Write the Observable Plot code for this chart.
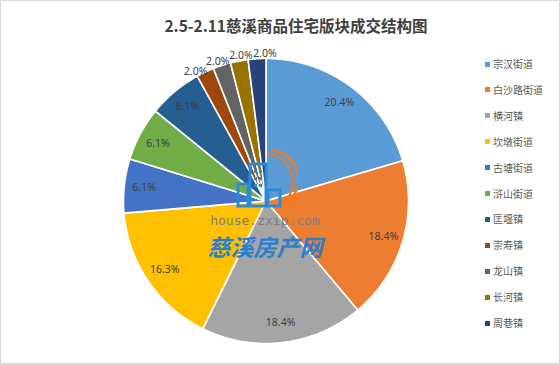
<!DOCTYPE html>
<html><head><meta charset="utf-8">
<script src="https://cdn.jsdelivr.net/npm/d3@7"></script>
<script src="https://cdn.jsdelivr.net/npm/@observablehq/plot@0.6"></script>
<style>
html,body{margin:0;padding:0;background:#fff;}
#wrap{position:relative;width:560px;height:365px;overflow:hidden;background:#fff;}
#border{position:absolute;left:0;top:0;width:560px;height:365px;box-sizing:border-box;border:1px solid #d9d9d9;border-bottom-width:2px;pointer-events:none;}
#title{position:absolute;left:16px;top:12px;width:560px;text-align:center;font:bold 15.5px "Noto Sans CJK SC","Noto Sans",sans-serif;color:#404040;line-height:26px;}
#legend{position:absolute;left:484px;top:0;font:10px "Noto Sans CJK SC",sans-serif;color:#595959;}
.item{position:absolute;left:0;white-space:nowrap;height:14px;line-height:14px;}
.sw{position:absolute;left:1px;top:4.5px;width:5px;height:5px;}
.lt{position:absolute;left:9px;top:0;}
#wm1{position:absolute;left:160px;top:213px;width:210px;text-align:center;font:13px "DejaVu Sans Mono","Liberation Mono",monospace;color:#7f7f7f;}
#wm2{position:absolute;left:160px;top:229px;width:210px;text-align:center;font:23px "Noto Sans CJK SC",sans-serif;color:#2a7fd0;font-style:italic;font-weight:bold;}
#logo{position:absolute;left:228px;top:146px;}
</style></head>
<body>
<div id="wrap">
  <div id="chart" style="position:absolute;left:0;top:0;"></div>
  <div id="title"></div>
  <div id="legend"></div>
  <svg id="logo" width="70" height="64" viewBox="0 0 70 64">
    <path d="M44 4 A30 30 0 0 1 58 58" fill="none" stroke="#f07a1e" stroke-width="2.5"/>
    <path d="M40 8 A28 28 0 0 1 54 58" fill="none" stroke="#f07a1e" stroke-width="2"/>
    <g fill="none" stroke="#2a8ad8" stroke-width="3">
      <rect x="22" y="18" width="16" height="42"/>
      <rect x="10" y="38" width="10" height="22"/>
      <rect x="40" y="44" width="12" height="16"/>
    </g>
    <g fill="#2a8ad8"><rect x="26" y="24" width="3" height="3"/><rect x="31" y="24" width="3" height="3"/><rect x="26" y="31" width="3" height="3"/><rect x="31" y="31" width="3" height="3"/><rect x="26" y="38" width="3" height="3"/><rect x="31" y="38" width="3" height="3"/></g>
  </svg>
  <div id="wm1">house.zxip.com</div>
  <div id="wm2">慈溪房产网</div>
  <div id="border"></div>
</div>
<script>
const title = "2.5-2.11慈溪商品住宅版块成交结构图";
const categories = ["宗汉街道","白沙路街道","横河镇","坎墩街道","古塘街道","浒山街道","匡堰镇","崇寿镇","龙山镇","长河镇","周巷镇"];
const values = [20.4,18.4,18.4,16.3,6.1,6.1,6.1,2.0,2.0,2.0,2.0];
const labels = ["20.4%","18.4%","18.4%","16.3%","6.1%","6.1%","6.1%","2.0%","2.0%","2.0%","2.0%"];
const colors = ["#5B9BD5","#ED7D31","#A5A5A5","#FFC000","#4472C4","#70AD47","#255E91","#9E480E","#636363","#997300","#264478"];

document.getElementById("title").textContent = title;

const arcs = d3.pie().sort(null).value(d => d)(values);
const slicePts = [];
arcs.forEach((a, i) => {
  const cat = categories[i];
  slicePts.push({cat, x: 0, y: 0});
  const n = Math.max(2, Math.ceil((a.endAngle - a.startAngle) / 0.01));
  for (let k = 0; k <= n; k++) {
    const t = a.startAngle + (a.endAngle - a.startAngle) * k / n;
    slicePts.push({cat, x: Math.sin(t), y: Math.cos(t)});
  }
  slicePts.push({cat, x: 0, y: 0});
});
// outside labels (small slices) are spread apart a little, as in the reference
const mids = arcs.map(a => (a.startAngle + a.endAngle) / 2);
const outIdx = values.map((v, i) => v <= 5 ? i : -1).filter(i => i >= 0);
const outMean = d3.mean(outIdx, i => mids[i]);
const labelPts = arcs.map((a, i) => {
  const out = values[i] <= 5;
  const m = out ? outMean + (mids[i] - outMean) * 1.3 : mids[i];
  const f = out ? 1.035 : 0.86;
  return {cat: categories[i], label: labels[i], x: f * Math.sin(m), y: f * Math.cos(m)};
});

const chart = Plot.plot({
  width: 560, height: 365,
  marginLeft: 123, marginRight: 152, marginTop: 58, marginBottom: 22,
  x: {domain: [-1, 1], axis: null},
  y: {domain: [-1, 1], axis: null},
  color: {type: "ordinal", domain: categories, range: colors},
  style: {background: "transparent", fontFamily: "'Noto Sans', sans-serif"},
  marks: [
    Plot.line(slicePts, {x: "x", y: "y", z: "cat", fill: "cat", stroke: "#fff", strokeWidth: 1.6, strokeLinejoin: "round", curve: "linear"}),
    Plot.text(labelPts, {x: "x", y: "y", text: "label", fill: "#404040", fontSize: 10.5, textAnchor: "middle"})
  ]
});
document.getElementById("chart").appendChild(chart);

const lg = document.getElementById("legend");
categories.forEach((c, i) => {
  const it = document.createElement("div");
  it.className = "item";
  it.style.top = (57 + i * 25.9) + "px";
  it.innerHTML = `<span class="sw" style="background:${colors[i]}"></span><span class="lt"></span>`;
  it.querySelector(".lt").textContent = c;
  lg.appendChild(it);
});
</script>
</body></html>
